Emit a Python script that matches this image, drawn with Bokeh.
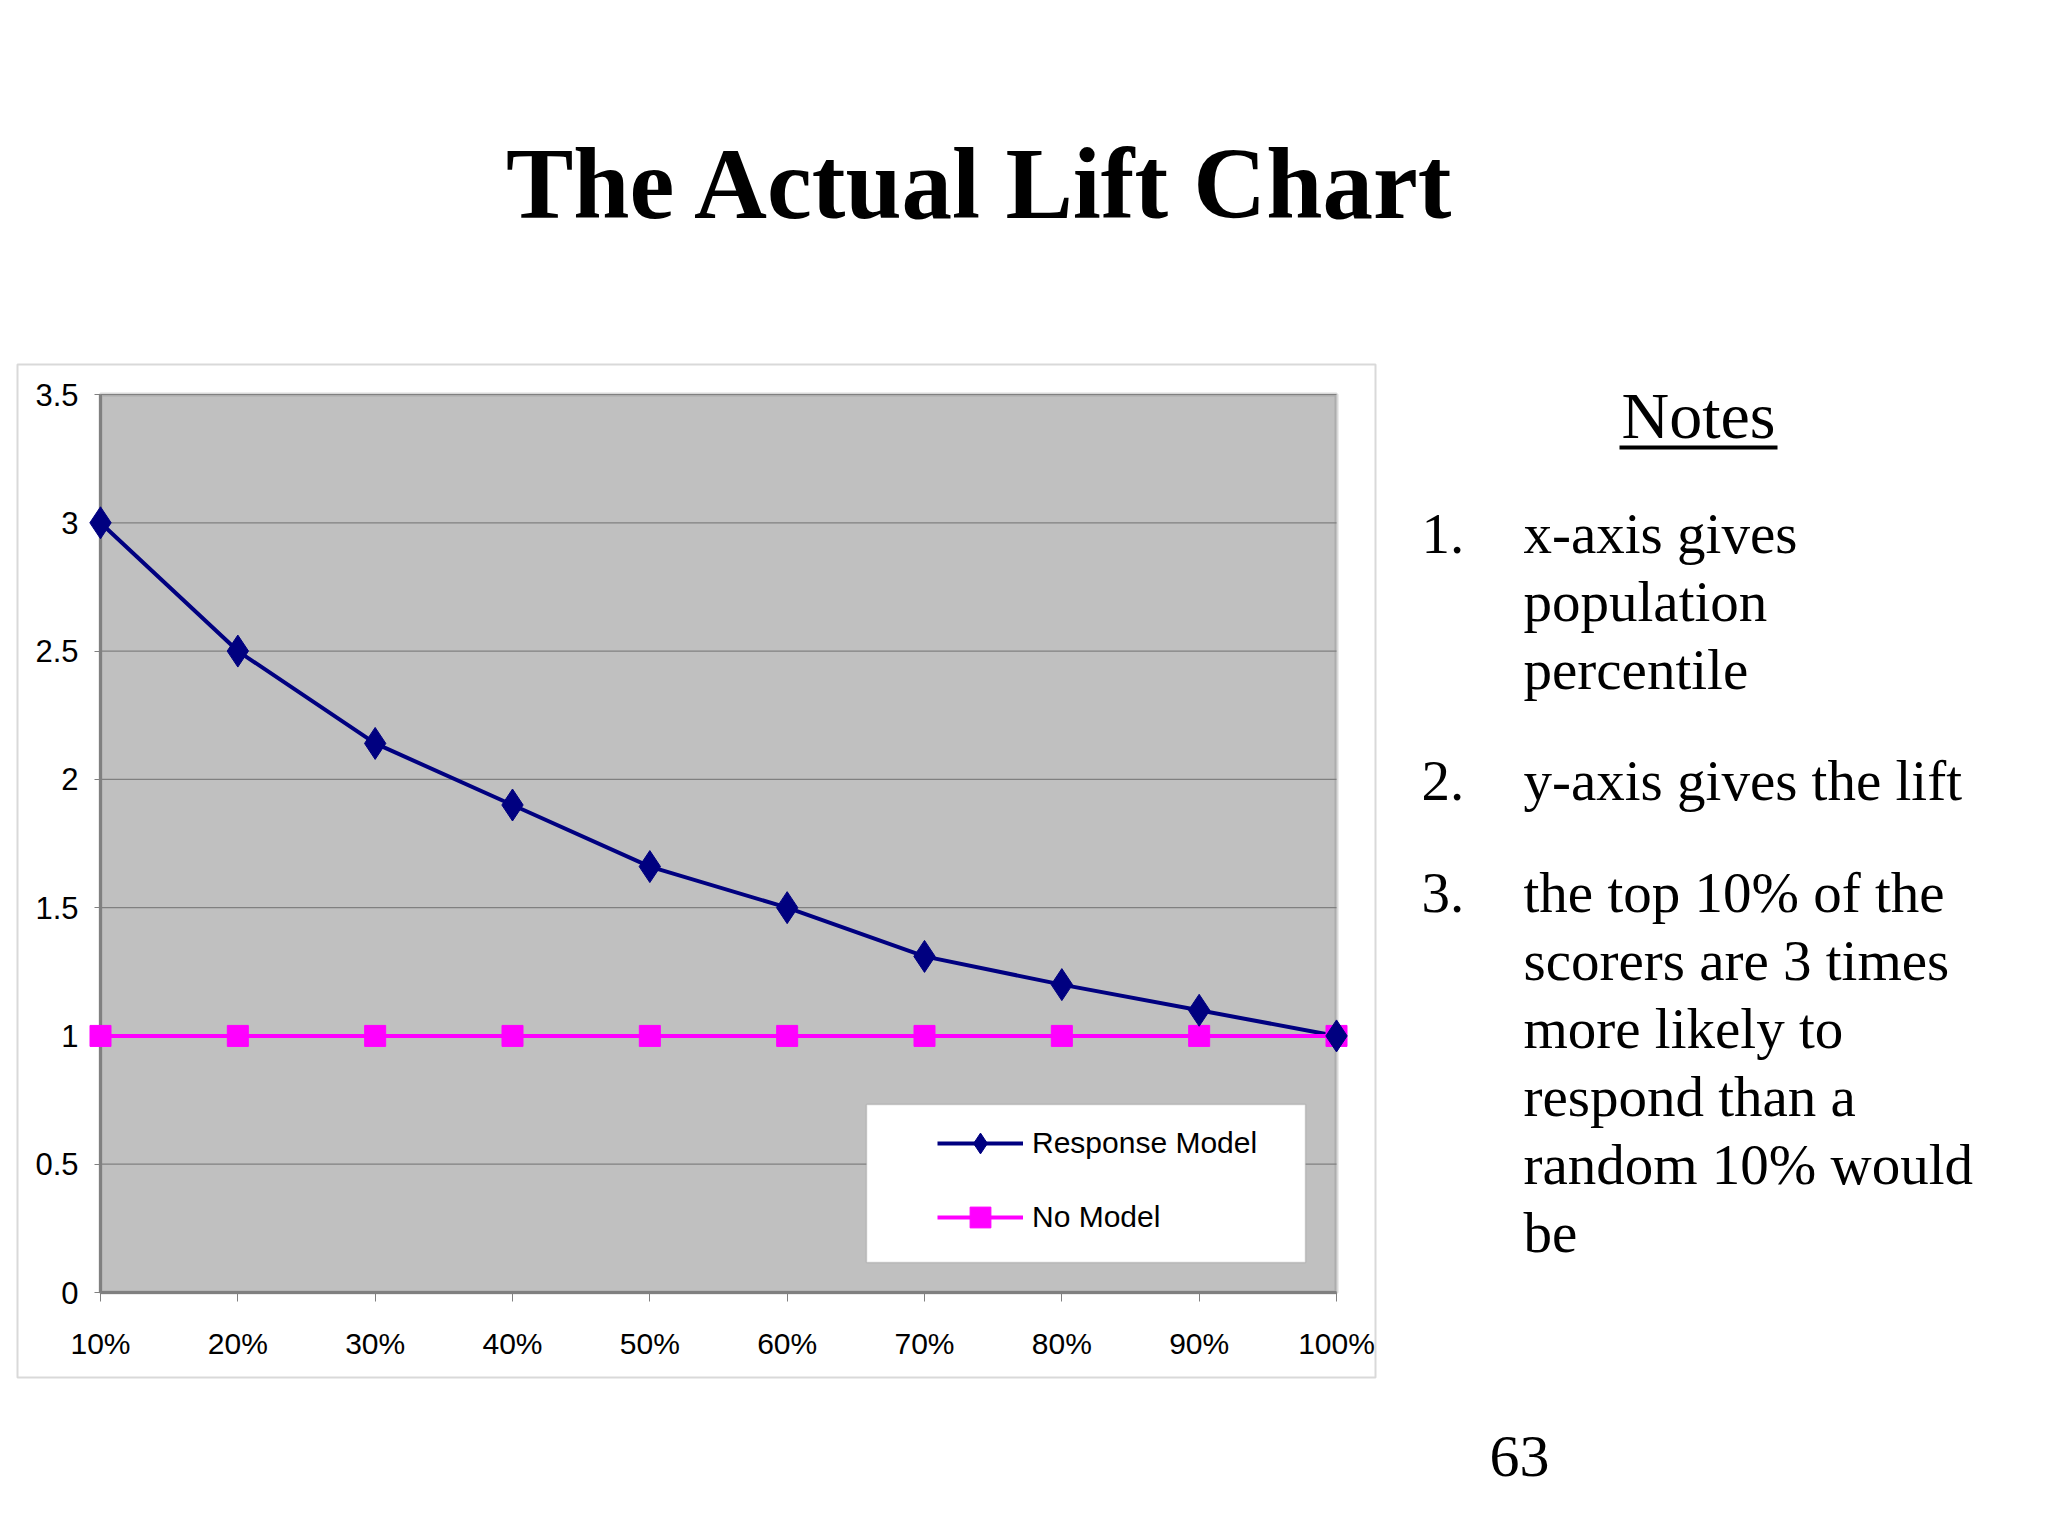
from bokeh.plotting import figure
from bokeh.models import (Label, Legend, LegendItem, BoxAnnotation, FixedTicker,
                          Range1d, ColumnDataSource)
from bokeh.embed import file_html
from bokeh.resources import INLINE

# ---------------- data ----------------
title_text = "The Actual Lift Chart"
percentiles = [10, 20, 30, 40, 50, 60, 70, 80, 90, 100]
x_tick_labels = ["10%", "20%", "30%", "40%", "50%", "60%", "70%", "80%", "90%", "100%"]
response_model = [3.0, 2.5, 2.14, 1.9, 1.66, 1.5, 1.31, 1.2, 1.1, 1.0]
no_model = [1.0, 1.0, 1.0, 1.0, 1.0, 1.0, 1.0, 1.0, 1.0, 1.0]
y_ticks = [0, 0.5, 1, 1.5, 2, 2.5, 3, 3.5]
y_tick_labels = ["0", "0.5", "1", "1.5", "2", "2.5", "3", "3.5"]
series_names = ["Response Model", "No Model"]
notes_heading = "Notes"
note_numbers = ["1.", "2.", "3."]
note_lines = [
    ["x-axis gives", "population", "percentile"],
    ["y-axis gives the lift"],
    ["the top 10% of the", "scorers are 3 times", "more likely to",
     "respond than a", "random 10% would", "be"],
]
page_number = "63"

# ---------------- layout / style ----------------
W, H = 2030, 1518
PAGE_OFF = 0
GRAY_L, GRAY_R, GRAY_T, GRAY_B = 100, 1336, 394, 1292   # plot area in page px
NAVY = "#000080"
MAGENTA = "#FF00FF"
GRAY = "#808080"
SERIF = "Liberation Serif"
SANS = "Liberation Sans"

kx = (GRAY_R - GRAY_L) / (percentiles[-1] - percentiles[0])
ky = (GRAY_B - GRAY_T) / (y_ticks[-1] - y_ticks[0])
x_start = percentiles[0] - (GRAY_L - PAGE_OFF) / kx
x_end = percentiles[-1] + (PAGE_OFF + W - GRAY_R) / kx
y_start = y_ticks[0] - (PAGE_OFF + H - GRAY_B) / ky
y_end = y_ticks[-1] + (GRAY_T - PAGE_OFF) / ky


def sx(page_x):
    return page_x - PAGE_OFF


def sy(page_y):
    return (H + PAGE_OFF) - page_y


def screen_box(l, r, t, b, **kw):
    return BoxAnnotation(left=sx(l), right=sx(r), top=sy(t), bottom=sy(b),
                         left_units="screen", right_units="screen",
                         top_units="screen", bottom_units="screen", **kw)


p = figure(width=W, height=H,
           x_range=Range1d(x_start, x_end), y_range=Range1d(y_start, y_end),
           output_backend="svg", toolbar_location=None,
           min_border_left=0, min_border_right=0,
           min_border_top=0, min_border_bottom=0,
           background_fill_color="white", border_fill_color="white",
           outline_line_color=None)
p.grid.visible = False

# outer chart box
p.add_layout(screen_box(17, 1375, 364, 1377, fill_alpha=0,
                        line_color=GRAY, line_width=2, level="image"))

# gray plot area
p.add_layout(BoxAnnotation(left=percentiles[0], right=percentiles[-1],
                           bottom=y_ticks[0], top=y_ticks[-1],
                           fill_color="#C0C0C0", fill_alpha=1,
                           line_color=GRAY, line_width=4, level="image"))

# horizontal grid lines across the plot area
p.segment(x0=[percentiles[0]] * len(y_ticks), y0=y_ticks,
          x1=[percentiles[-1]] * len(y_ticks), y1=y_ticks,
          line_color=GRAY, line_width=1.2)

# axes (fixed inside the frame)
xa = p.xaxis[0]
xa.fixed_location = y_ticks[0]
xa.ticker = FixedTicker(ticks=percentiles)
xa.major_label_overrides = {v: s for v, s in zip(percentiles, x_tick_labels)}
xa.bounds = (percentiles[0], percentiles[-1])
xa.axis_line_color = GRAY
xa.axis_line_width = 3
xa.major_tick_line_color = GRAY
xa.major_tick_out = 9
xa.major_tick_in = 0
xa.minor_tick_line_color = None
xa.major_label_standoff = 25
xa.major_label_text_font = SANS
xa.major_label_text_font_size = "30px"
xa.major_label_text_color = "black"
xa.level = "underlay"

ya = p.yaxis[0]
ya.fixed_location = percentiles[0]
ya.ticker = FixedTicker(ticks=y_ticks)
ya.major_label_overrides = {v: s for v, s in zip(y_ticks, y_tick_labels)}
ya.bounds = (y_ticks[0], y_ticks[-1])
ya.axis_line_color = GRAY
ya.axis_line_width = 3
ya.major_tick_line_color = GRAY
ya.major_tick_out = 6
ya.major_tick_in = 0
ya.minor_tick_line_color = None
ya.major_label_standoff = 16
ya.major_label_text_font = SANS
ya.major_label_text_font_size = "31px"
ya.major_label_text_color = "black"
ya.level = "underlay"

src = ColumnDataSource(dict(x=percentiles, resp=response_model, none=no_model))

r_line = p.line("x", "resp", source=src, line_color=NAVY, line_width=4)
n_line = p.line("x", "none", source=src, line_color=MAGENTA, line_width=4)
n_pts = p.scatter("x", "none", source=src, marker="square", size=21,
                  fill_color=MAGENTA, line_color=MAGENTA)
r_pts = p.scatter("x", "resp", source=src, marker="diamond", size=32,
                  fill_color=NAVY, line_color=NAVY)

# legend box
p.add_layout(screen_box(866, 1305, 1104, 1262, fill_color="white", fill_alpha=1,
                        line_color=GRAY, line_width=1.5))

legend = Legend(items=[LegendItem(label=series_names[0], renderers=[r_line, r_pts]),
                       LegendItem(label=series_names[1], renderers=[n_line, n_pts])],
                location=(sx(927), sy(1253)), margin=0, padding=10,
                glyph_width=86, glyph_height=52, label_height=52,
                label_standoff=9, spacing=22,
                label_text_font=SANS, label_text_font_size="30px",
                label_text_color="black",
                background_fill_alpha=0, border_line_alpha=0)
p.add_layout(legend)

# title
p.add_layout(Label(x=sx(981), y=sy(183), x_units="screen", y_units="screen",
                   text=title_text, text_font=SERIF, text_font_size="101px",
                   text_font_style="bold", text_align="center",
                   text_baseline="middle", text_color="black"))

# notes heading + underline
p.add_layout(Label(x=sx(1698), y=sy(415), x_units="screen", y_units="screen",
                   text=notes_heading, text_font=SERIF, text_font_size="66px",
                   text_align="center", text_baseline="middle", text_color="black"))
p.add_layout(screen_box(1619, 1777, 445, 449, fill_color="black", fill_alpha=1,
                        line_alpha=0))

# numbered notes
note_start_y = [533, 780, 892]
LINE_STEP = 68
for num, lines, y0 in zip(note_numbers, note_lines, note_start_y):
    p.add_layout(Label(x=sx(1421), y=sy(y0), x_units="screen", y_units="screen",
                       text=num, text_font=SERIF, text_font_size="57px",
                       text_align="left", text_baseline="middle", text_color="black"))
    for i, t in enumerate(lines):
        p.add_layout(Label(x=sx(1523), y=sy(y0 + i * LINE_STEP),
                           x_units="screen", y_units="screen",
                           text=t, text_font=SERIF, text_font_size="57px",
                           text_align="left", text_baseline="middle",
                           text_color="black"))

# page number
p.add_layout(Label(x=sx(1519), y=sy(1456), x_units="screen", y_units="screen",
                   text=page_number, text_font=SERIF, text_font_size="60px",
                   text_align="center", text_baseline="middle", text_color="black"))

open("out.html", "w").write(file_html(p, INLINE))
